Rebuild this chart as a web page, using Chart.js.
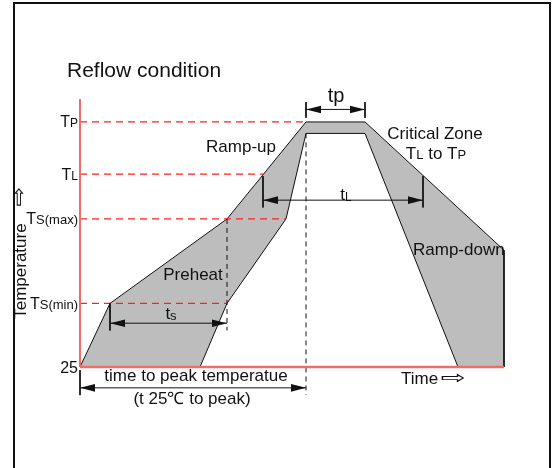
<!DOCTYPE html>
<html>
<head>
<meta charset="utf-8">
<script src="https://cdn.jsdelivr.net/npm/chart.js@4"></script>
<style>
html, body { margin: 0; padding: 0; background: #fff; }
#wrap { position: relative; width: 555px; height: 468px; overflow: hidden; }
#frame { position: absolute; left: 13px; top: 2px; width: 534px; height: 480px; border: 2px solid #111; }
#reflowChart { position: absolute; left: 0; top: 0; }
</style>
</head>
<body>
<div id="wrap">
  <div id="frame"></div>
  <canvas id="reflowChart" width="555" height="468"></canvas>
</div>
<script>
// profile band, time in s / temperature in °C
const outerTime = [0, 30, 147, 226, 285, 424, 424];
const outerTemp = [25, 86, 167, 260, 260, 137, 25];
const innerTime = [378, 285, 226, 206, 147, 120, 0];
const innerTemp = [25, 249, 249, 167, 86, 25, 25];

// levels on the temperature axis
const levelNames = ['TP', 'TL', 'TS(max)', 'TS(min)', '25'];
const levelTemps = [260, 210, 167, 86, 25];
const levelReach = [226, 183, 206, 147, 0]; // where the red guide stops

// time spans
const spanNames = ['tp', 'tL', 'ts', 'time to peak'];
const spanFrom = [226, 183, 30, 0];
const spanTo = [285, 343, 147, 226];
const spanTemp = [272, 185, 67, 5];

// end marks of the spans
const markTime = [226, 285, 183, 343, 30, 0];
const markTop = [279, 279, 208, 208, 86, 22];
const markBottom = [264, 264, 178, 178, 60, -2];

// black dashed drop lines
const dropTime = [147, 226];
const dropTop = [167, 249];
const dropBottom = [60, -2];

const timeMax = 425;
const tempMin = 25, tempMax = 282;

const textFont = '"Liberation Sans", Arial, sans-serif';

function seg(x1, y1, x2, y2) {
    return [{ x: x1, y: y1 }, { x: x2, y: y2 }];
}

const base = { showLine: true, pointRadius: 0, clip: false, fill: false };
const datasets = [];

// grey band
datasets.push(Object.assign({}, base, {
    label: 'profile',
    data: outerTime.map((t, i) => ({ x: t, y: outerTemp[i] }))
        .concat(innerTime.map((t, i) => ({ x: t, y: innerTemp[i] }))),
    fill: 'shape',
    backgroundColor: '#bdbdbd',
    borderColor: '#111',
    borderWidth: 1,
    order: 10
}));

// red dashed guides
levelTemps.forEach((temp, i) => {
    if (levelReach[i] <= 0) return;
    datasets.push(Object.assign({}, base, {
        label: levelNames[i],
        data: seg(0, temp, levelReach[i], temp),
        borderColor: '#ff2020',
        borderWidth: 1.2,
        borderDash: [7, 5],
        order: 5
    }));
});

// black dashed drops
dropTime.forEach((t, i) => {
    datasets.push(Object.assign({}, base, {
        label: 'drop',
        data: seg(t, dropTop[i], t, dropBottom[i]),
        borderColor: '#111',
        borderWidth: 1,
        borderDash: [5, 4],
        order: 4
    }));
});

// span lines + end marks
spanNames.forEach((name, i) => {
    datasets.push(Object.assign({}, base, {
        label: name,
        data: seg(spanFrom[i], spanTemp[i], spanTo[i], spanTemp[i]),
        borderColor: '#111',
        borderWidth: 1,
        order: 3
    }));
});
markTime.forEach((t, i) => {
    datasets.push(Object.assign({}, base, {
        label: 'mark',
        data: seg(t, markTop[i], t, markBottom[i]),
        borderColor: '#111',
        borderWidth: 1,
        order: 3
    }));
});

// red axes
datasets.push(Object.assign({}, base, {
    label: 'y axis',
    data: seg(0, tempMin, 0, tempMax),
    borderColor: '#f26b6b',
    borderWidth: 2,
    order: 1
}));
datasets.push(Object.assign({}, base, {
    label: 'x axis',
    data: seg(0, tempMin, 424, tempMin),
    borderColor: '#f26b6b',
    borderWidth: 2.5,
    order: 1
}));

function drawParts(ctx, parts, x, y, align) {
    let w = 0;
    parts.forEach(p => { ctx.font = p[1] + 'px ' + textFont; w += ctx.measureText(p[0]).width; });
    let cx = align === 'center' ? x - w / 2 : (align === 'right' ? x - w : x);
    ctx.textAlign = 'left';
    ctx.textBaseline = 'alphabetic';
    parts.forEach(p => {
        ctx.font = p[1] + 'px ' + textFont;
        ctx.fillText(p[0], cx, y + (p[2] || 0));
        cx += ctx.measureText(p[0]).width;
    });
}

const sketchText = {
    id: 'sketchText',
    afterDatasetsDraw(chart) {
        const ctx = chart.ctx;
        const sx = chart.scales.x, sy = chart.scales.y;
        const px = v => sx.getPixelForValue(v);
        const py = v => sy.getPixelForValue(v);
        ctx.save();
        ctx.fillStyle = '#111';

        // arrow heads on the spans
        spanNames.forEach((name, i) => {
            const y = py(spanTemp[i]);
            [[px(spanFrom[i]), 1], [px(spanTo[i]), -1]].forEach(([x, dir]) => {
                ctx.beginPath();
                ctx.moveTo(x, y);
                ctx.lineTo(x + dir * 15, y - 3.8);
                ctx.lineTo(x + dir * 15, y + 3.8);
                ctx.closePath();
                ctx.fill();
            });
        });

        // level labels
        levelNames.forEach((name, i) => {
            const y = py(levelTemps[i]) + 5.5;
            let parts;
            if (name === '25') parts = [['25', 16]];
            else parts = [['T', 16], [name.slice(1), name.length > 2 ? 13 : 12]];
            drawParts(ctx, parts, px(-2), y, 'right');
        });

        // span labels
        drawParts(ctx, [['tp', 20]], px(256), py(286) + 7, 'center');
        drawParts(ctx, [['t', 17], ['L', 12, 1]], px(266), py(191) + 6, 'center');
        drawParts(ctx, [['t', 17], ['s', 13, 1]], px(91), py(77) + 6, 'center');
        drawParts(ctx, [['time to peak temperatue', 17]], px(116), py(17) + 6, 'center');
        drawParts(ctx, [['(t 25℃ to peak)', 17]], px(112), py(-5) + 6, 'center');

        // zone labels
        drawParts(ctx, [['Ramp-up', 17]], px(161), py(237) + 6, 'center');
        drawParts(ctx, [['Critical Zone', 17]], px(355), py(249) + 6, 'center');
        drawParts(ctx, [['T', 17], ['L', 13], [' to T', 17], ['P', 13]], px(356), py(230) + 6, 'center');
        drawParts(ctx, [['Ramp-down', 17]], px(333), py(138) + 6, 'left');
        drawParts(ctx, [['Preheat', 17]], px(113), py(114) + 6, 'center');

        // title
        drawParts(ctx, [['Reflow condition', 21]], px(-13), py(310) + 7.5, 'left');

        // Time ⇨
        drawParts(ctx, [['Time', 17]], px(321), py(14) + 6, 'left');
        ctx.save();
        ctx.translate(px(373), py(14) + 1);
        ctx.scale(1.8, 1.1);
        ctx.font = '17px "DejaVu Sans"';
        ctx.textAlign = 'center';
        ctx.textBaseline = 'middle';
        ctx.fillText('⇨', 0, 0);
        ctx.restore();

        // Temperature (rotated) with arrow
        ctx.save();
        ctx.translate(px(-54.5), py(117));
        ctx.rotate(-Math.PI / 2);
        ctx.font = '17px ' + textFont;
        ctx.textAlign = 'center';
        ctx.textBaseline = 'alphabetic';
        ctx.fillText('Temperature', 0, 0);
        ctx.translate(74, -5.5);
        ctx.scale(1.3, 1.1);
        ctx.font = '18px "DejaVu Sans"';
        ctx.textBaseline = 'middle';
        ctx.fillText('⇨', 0, 0);
        ctx.restore();

        ctx.restore();
    }
};

new Chart(document.getElementById('reflowChart'), {
    type: 'scatter',
    data: { datasets: datasets },
    options: {
        responsive: false,
        animation: false,
        events: [],
        layout: { padding: { left: 80, right: 50, top: 99, bottom: 101 } },
        plugins: { legend: { display: false }, tooltip: { enabled: false } },
        scales: {
            x: { type: 'linear', display: false, min: 0, max: timeMax },
            y: { type: 'linear', display: false, min: tempMin, max: tempMax }
        }
    },
    plugins: [sketchText]
});
</script>
</body>
</html>
